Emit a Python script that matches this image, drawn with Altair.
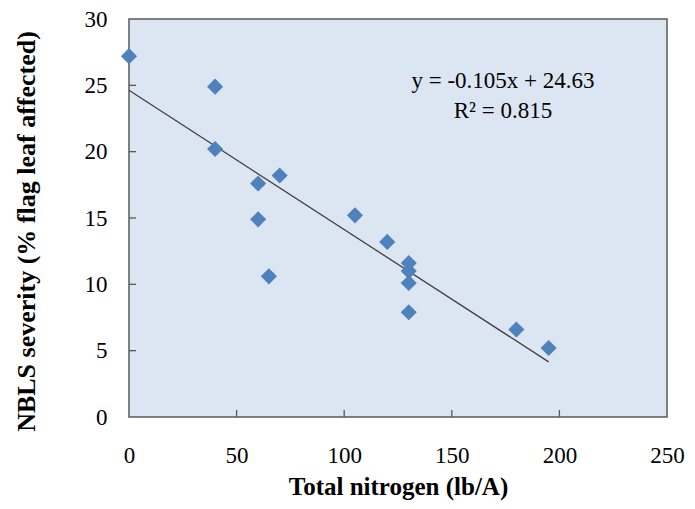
import altair as alt
import pandas as pd

nitrogen = [0, 40, 40, 60, 60, 65, 70, 105, 120, 130, 130, 130, 130, 180, 195]
severity = [27.2, 24.9, 20.2, 17.6, 14.9, 10.6, 18.2, 15.2, 13.2, 11.6, 11.0, 10.1, 7.9, 6.6, 5.2]
slope = -0.105
intercept = 24.63
trend_x = [0, 195]
x_ticks = [50, 100, 150, 200]
y_ticks = [5, 10, 15, 20, 25]
eq_line1 = "y = -0.105x + 24.63"
eq_line2 = "R\u00b2 = 0.815"

FONT = "Liberation Serif"
BLUE = "#4F81BD"
GRAY = "#595959"

pts = pd.DataFrame({"n": nitrogen, "s": severity})
trend = pd.DataFrame({"n": trend_x})

xs = alt.Scale(domain=[0, 250], nice=False, zero=False)
ys = alt.Scale(domain=[0, 30], nice=False, zero=False)

x_axis = alt.Axis(
    values=[0, 50, 100, 150, 200, 250], title="Total  nitrogen (lb/A)",
    grid=False, domain=False, ticks=False, labelPadding=27, orient="bottom",
    labelFlush=False, labelOverlap=False,
    labelFont=FONT, labelFontSize=23, labelColor="#000",
    titleFont=FONT, titleFontSize=25, titleFontWeight="bold", titleColor="#000",
    titleBaseline="alphabetic", titleAlign="center", titleX=269, titleY=77,
)
y_axis = alt.Axis(
    values=[0, 5, 10, 15, 20, 25, 30], title="NBLS severity (% flag leaf affected)",
    grid=False, domain=False, ticks=False, labelPadding=22, orient="left",
    labelFlush=False, labelOverlap=False,
    labelFont=FONT, labelFontSize=23, labelColor="#000",
    titleFont=FONT, titleFontSize=26, titleFontWeight="bold", titleColor="#000",
    titleAngle=-90, titleBaseline="middle", titleAlign="center",
    titleX=-103, titleY=212,
)
X = alt.X("n:Q", scale=xs, axis=x_axis)
Y = alt.Y("s:Q", scale=ys, axis=y_axis)

points = alt.Chart(pts).mark_point(
    shape="diamond", filled=True, size=260, color=BLUE, opacity=1
).encode(x=X, y=Y)

line = alt.Chart(trend).transform_calculate(
    s=f"{slope} * datum.n + {intercept}"
).mark_line(color="#404040", strokeWidth=1.3).encode(x=X, y=Y)

ytk = alt.Chart(pd.DataFrame({"s": y_ticks})).mark_rule(color=GRAY, strokeWidth=1.3).encode(
    y=Y, x=alt.value(0), x2=alt.value(7)
)
xtk = alt.Chart(pd.DataFrame({"n": x_ticks})).mark_rule(color=GRAY, strokeWidth=1.3).encode(
    x=X, y=alt.value(398), y2=alt.value(391)
)

eq1 = alt.Chart(pd.DataFrame({"t": [eq_line1]})).mark_text(
    font=FONT, fontSize=23, color="#000", align="center", baseline="alphabetic"
).encode(text="t:N", x=alt.value(374), y=alt.value(69))
eq2 = alt.Chart(pd.DataFrame({"t": [eq_line2]})).mark_text(
    font=FONT, fontSize=23, color="#000", align="center", baseline="alphabetic"
).encode(text="t:N", x=alt.value(374), y=alt.value(99))

chart = alt.layer(ytk, xtk, line, points, eq1, eq2).properties(
    width=538, height=398,
    padding={"left": 121, "top": 11, "right": 20, "bottom": 84},
    autosize="none",
    background="white",
).configure_view(
    fill="#DCE6F2", stroke=GRAY, strokeWidth=1.5
)

chart.save("out.html", embed_options={"renderer": "svg", "actions": False})
